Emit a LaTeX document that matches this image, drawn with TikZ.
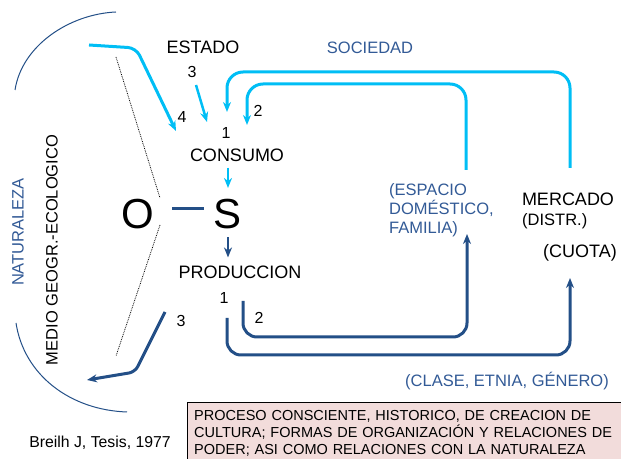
\documentclass[tikz,border=0pt]{standalone}
\usepackage{fontspec}
\setmainfont{Liberation Sans}
\usetikzlibrary{arrows.meta}
\definecolor{sky}{RGB}{0,190,245}
\definecolor{navy}{RGB}{35,79,135}
\definecolor{steel}{RGB}{50,90,150}
\definecolor{rosebox}{RGB}{242,220,219}

\begin{document}
\begin{tikzpicture}[x=1pt, y=1pt,
    lbl/.style={inner sep=0pt, font=\fontsize{18}{21}\selectfont},
    slbl/.style={inner sep=0pt, font=\fontsize{16.5}{19}\selectfont},
    num/.style={inner sep=0pt, font=\fontsize{16}{19}\selectfont},
    big/.style={inner sep=0pt, font=\fontsize{42}{44}\selectfont},
    skyarrow/.style={draw=sky, line width=3pt, -{Stealth[length=10pt,width=8pt]}},
    navyarrow/.style={draw=navy, line width=3pt, -{Stealth[length=10pt,width=8pt]}}]
        \useasboundingbox (0,0) rectangle (621,458);

        % Nodes
        \node (O) [big] at (138,244) {O};
        \node (S) [big, right of=O, node distance=90pt] {S};
        \node (estado) [lbl] at (203,411) {ESTADO};
        \node (sociedad) [slbl, text=steel] at (370,410) {SOCIEDAD};
        \node (consumo) [lbl] at (237,303) {CONSUMO};
        \node (produccion) [lbl] at (240,186) {PRODUCCION};
        \node (mercado) [lbl] at (568,259) {MERCADO};
        \node (distr) [slbl, anchor=west] at (522,237) {(DISTR.)};
        \node (cuota) [lbl] at (580,205) {(CUOTA)};
        \node (espacio) [slbl, text=steel, anchor=north west, align=left] at (389,275) {(ESPACIO\\DOMÉSTICO,\\FAMILIA)};
        \node (clase) [slbl, text=steel] at (507,77) {(CLASE, ETNIA, GÉNERO)};
        \node (naturaleza) [slbl, text=steel, rotate=90] at (18,226) {NATURALEZA};
        \node (medio) [slbl, rotate=90] at (52,208) {MEDIO GEOGR.-ECOLOGICO};
        \node (breilh) [slbl, font=\fontsize{15.8}{19}\selectfont] at (100,15) {Breilh J, Tesis, 1977};
        \node (note) [draw=black, fill=rosebox, anchor=north west, inner xsep=7pt, inner ysep=8pt,
            text width=440pt, align=left, font=\fontsize{14.5}{17}\selectfont]
            at (187,56) {PROCESO CONSCIENTE, HISTORICO, DE CREACION DE\\CULTURA; FORMAS DE ORGANIZACIÓN Y RELACIONES DE\\PODER; ASI COMO RELACIONES CON LA NATURALEZA};

        % Numbers
        \node (n4) [num] at (182,341) {4};
        \node (n3a) [num] at (192,386) {3};
        \node (n1a) [num] at (226,325) {1};
        \node (n2a) [num] at (258,347) {2};
        \node (n1b) [num] at (224,160) {1};
        \node (n2b) [num] at (259,140) {2};
        \node (n3b) [num] at (181,137) {3};

        % Free ends
        \coordinate (mktfoot) at (570,290);
        \coordinate (famfoot) at (466,288);
        \coordinate (tip1) at (227,346);
        \coordinate (tip2) at (247,333);
        \coordinate (natfrom) at (89,413);
        \coordinate (tip4) at (176,327);
        \coordinate (from3) at (196,373);
        \coordinate (tip3) at (207,336);
        \coordinate (prod1) at (227,140);
        \coordinate (prod2) at (243,157);
        \coordinate (famtip) at (467,224);
        \coordinate (cuotatip) at (570,180);
        \coordinate (from3b) at (165,146);
        \coordinate (tip3b) at (87,78);

        % Arcs and dotted lines
        \draw [navy, line width=1pt] (116,446) .. controls (70,444) and (22,413) .. (15,368);
        \draw [navy, line width=1pt] (16,135) .. controls (24,83) and (70,48) .. (127,46);
        \draw [densely dotted, line width=0.8pt] (116,401) -- (160,260);
        \draw [densely dotted, line width=0.8pt] (160,233) -- (116,102);

        % Arrows
        \draw [skyarrow, rounded corners=16pt] (mktfoot) -- ++(0,96) -| (tip1);
        \draw [skyarrow, rounded corners=16pt] (famfoot) -- ++(0,86) -| (tip2);
        \draw [skyarrow, rounded corners=8pt] (natfrom) -- (136,410) -- (tip4);
        \draw [skyarrow, line width=2.5pt] (from3) -- (tip3);
        \draw [skyarrow, line width=2pt, shorten <=6pt, shorten >=11pt] (S.north |- consumo.south) -- (S.north);
        \draw [navy, line width=3pt, shorten <=17.7pt, shorten >=10pt] ([yshift=5pt]O.east) -- ([yshift=5pt]S.west);
        \draw [navyarrow, line width=2pt, shorten <=8pt, shorten >=8pt] (S.south) -- (S.south |- produccion.north);
        \draw [navyarrow, rounded corners=14pt] (prod2) -- ++(0,-36) -| (famtip);
        \draw [navyarrow, rounded corners=14pt] (prod1) -- ++(0,-37) -| (cuotatip);
        \draw [navyarrow, rounded corners=6pt] (from3b) -- (135,86) -- (tip3b);
    \end{tikzpicture}
\end{document}
